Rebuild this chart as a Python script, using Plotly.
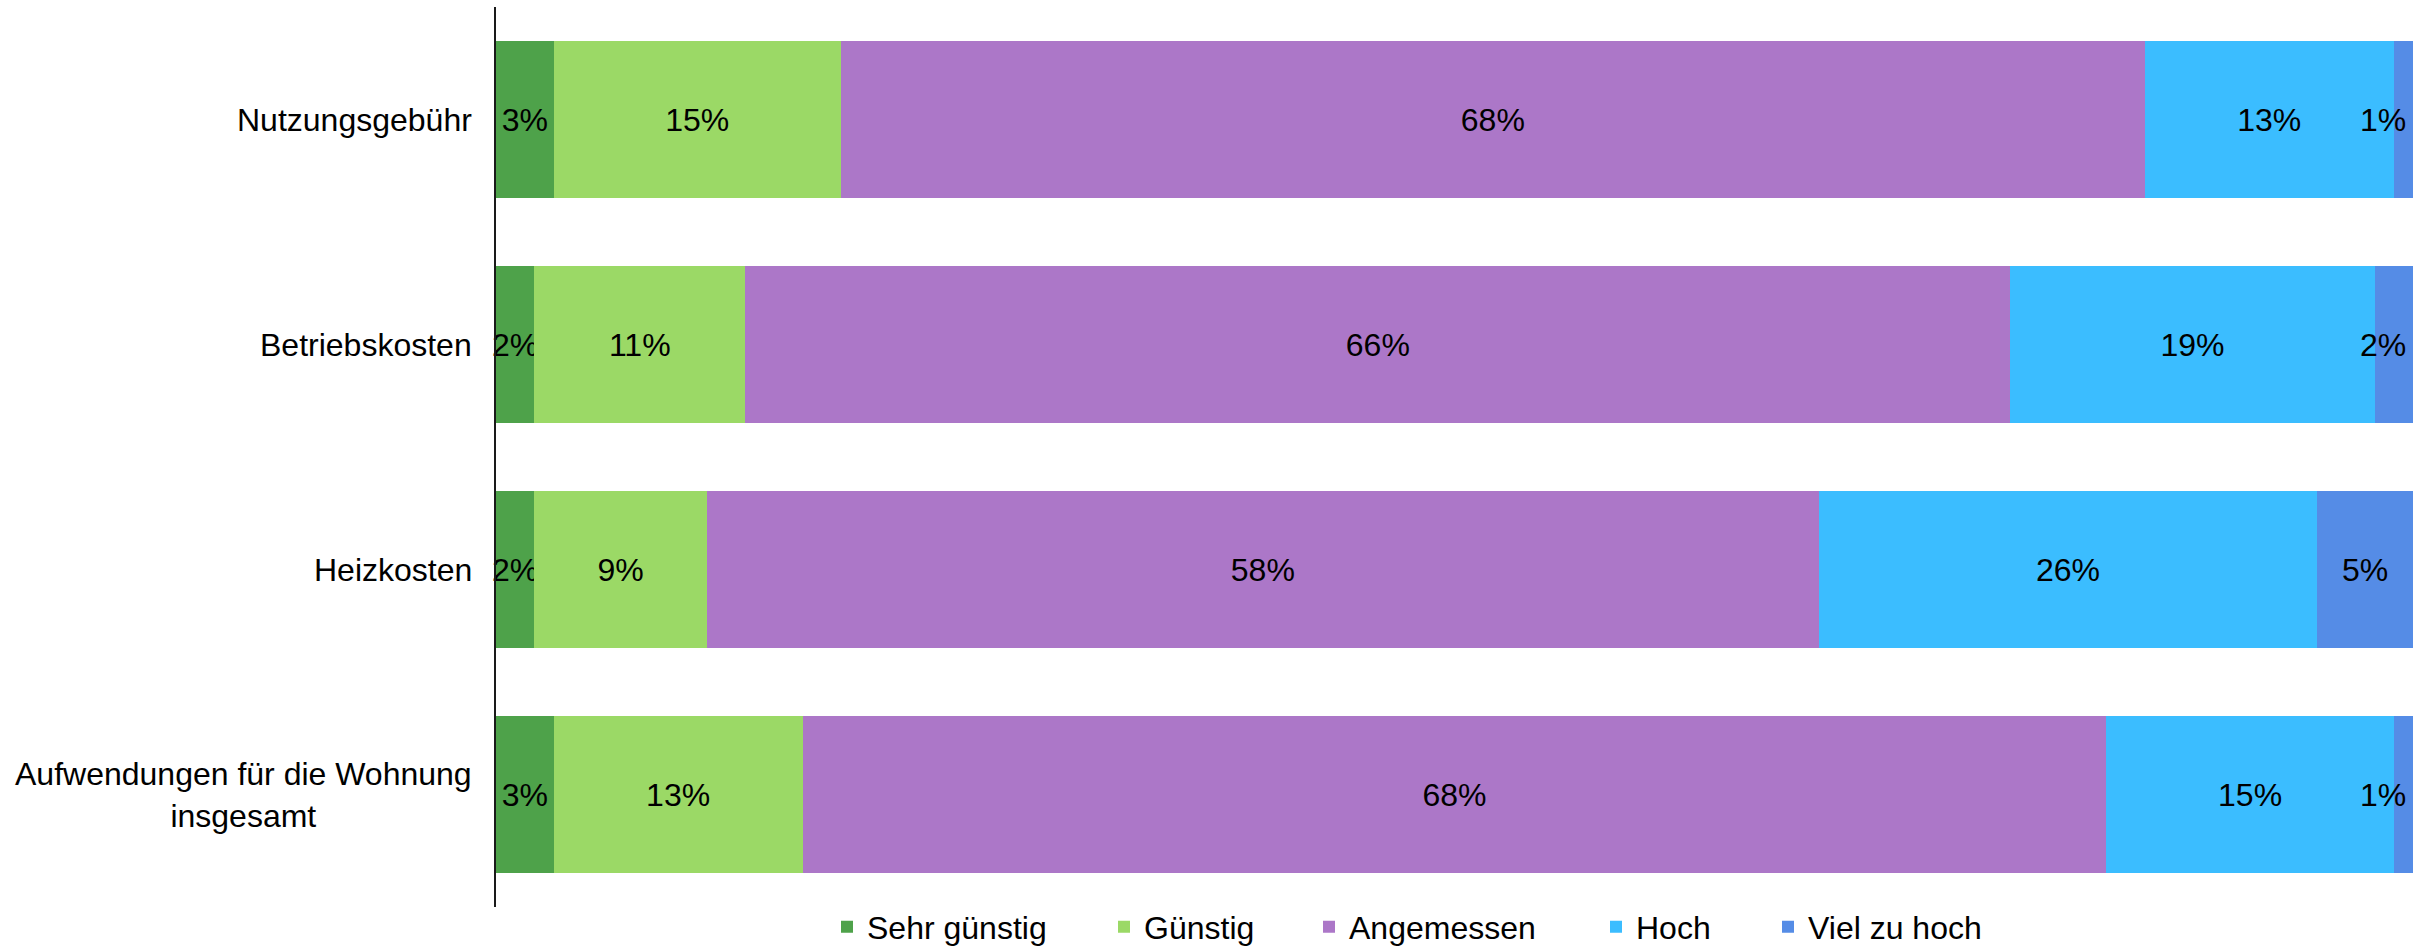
import plotly.graph_objects as go

# Survey categories (top to bottom) and rating shares in percent
categories = [
    "Nutzungsgebühr",
    "Betriebskosten",
    "Heizkosten",
    "Aufwendungen für die Wohnung<br>insgesamt",
]
sehr_guenstig = [3, 2, 2, 3]
guenstig = [15, 11, 9, 13]
angemessen = [68, 66, 58, 68]
hoch = [13, 19, 26, 15]
viel_zu_hoch = [1, 2, 5, 1]

series_names = ["Sehr günstig", "Günstig", "Angemessen", "Hoch", "Viel zu hoch"]
series_values = [sehr_guenstig, guenstig, angemessen, hoch, viel_zu_hoch]
series_colors = ["#4EA24A", "#9BD966", "#AC77C8", "#3BBDFF", "#558CE6"]

FONT = "Liberation Sans, Arial, sans-serif"

# Layout geometry in pixels
W, H = 2417, 950
M_L, M_R, M_T, M_B = 496, 4, 7, 43
plot_w = W - M_L - M_R
plot_h = H - M_T - M_B

# Horizontal position of each legend entry's symbol centre (pixels)
legend_px = [847, 1124, 1329, 1616, 1788]
# Vertical centre of the legend row (pixels from the top)
legend_py = 927

# Segments narrower than this (in %) get their label pinned inside the right end
NARROW_LAST = 4

fig = go.Figure()
legend_ids = ["legend", "legend2", "legend3", "legend4", "legend5"]
last = len(series_names) - 1
for i, (name, vals, color, lid) in enumerate(
        zip(series_names, series_values, series_colors, legend_ids)):
    positions = ["inside"] * len(vals)
    if i == last:
        positions = ["inside" if v >= NARROW_LAST else "none" for v in vals]
    fig.add_trace(go.Bar(
        y=categories,
        x=vals,
        name=name,
        orientation="h",
        marker=dict(color=color, line=dict(width=0)),
        text=[f"{v}%" for v in vals],
        textposition=positions,
        insidetextanchor="middle",
        textangle=0,
        textfont=dict(family=FONT, size=32, color="black"),
        cliponaxis=False,
        legend=lid,
        hoverinfo="skip",
    ))

layout_legends = {}
for lid, px in zip(legend_ids, legend_px):
    layout_legends[lid] = dict(
        orientation="h",
        x=(px - 20 - M_L) / plot_w,
        xanchor="left",
        y=(M_T + plot_h - legend_py) / plot_h,
        yanchor="middle",
        font=dict(family=FONT, size=32, color="black"),
        bgcolor="rgba(0,0,0,0)",
        borderwidth=0,
        itemwidth=30,
    )

annotations = []
# Category labels, centred line by line
for cat in categories:
    annotations.append(dict(
        x=0, xref="paper", y=cat, yref="y",
        xanchor="right", yanchor="middle",
        xshift=-22,
        text=cat, showarrow=False, align="center",
        font=dict(family=FONT, size=32, color="black"),
    ))
# Labels of the thin end segments, kept inside the plot's right edge
for cat, v in zip(categories, viel_zu_hoch):
    if v < NARROW_LAST:
        annotations.append(dict(
            x=100, xref="x", y=cat, yref="y",
            xanchor="right", yanchor="middle",
            xshift=-5,
            text=f"{v}%", showarrow=False,
            font=dict(family=FONT, size=32, color="black"),
        ))

fig.update_layout(
    width=W, height=H,
    margin=dict(l=M_L, r=M_R, t=M_T, b=M_B, pad=0, autoexpand=False),
    barmode="stack",
    bargap=0.3,
    plot_bgcolor="white",
    paper_bgcolor="white",
    font=dict(family=FONT, size=32, color="black"),
    uniformtext=dict(minsize=32, mode="show"),
    showlegend=True,
    annotations=annotations,
    **layout_legends,
)
fig.update_xaxes(range=[0, 100], visible=False, fixedrange=True)
fig.update_yaxes(
    categoryorder="array",
    categoryarray=categories,
    autorange="reversed",
    showticklabels=False,
    ticks="",
    showgrid=False,
    zeroline=False,
    showline=True,
    linecolor="#1a1a1a",
    linewidth=2,
    fixedrange=True,
)

fig.write_html("out.html")
